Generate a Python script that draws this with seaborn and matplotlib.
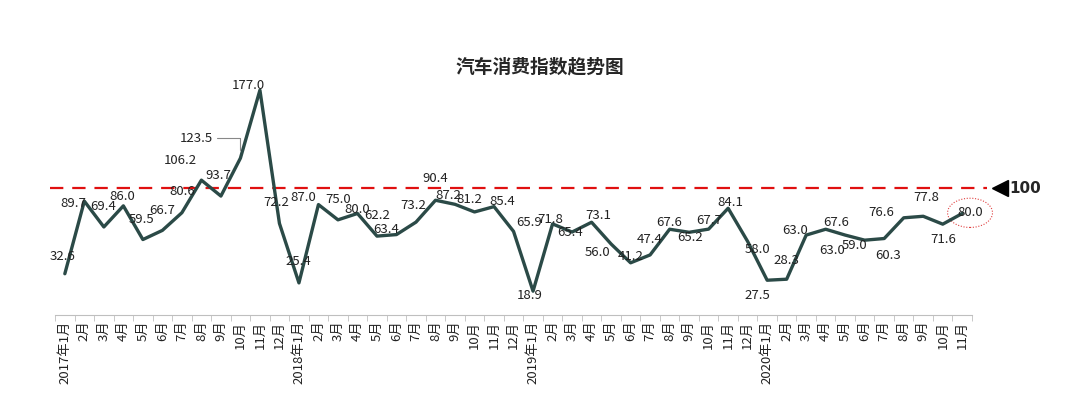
import numpy as np
import pandas as pd
import matplotlib
matplotlib.use("Agg")
import matplotlib.pyplot as plt
from matplotlib.patches import Ellipse
import seaborn as sns

# monthly index values, 2017-01 .. 2020-11
months = ['2017年1月', '2月', '3月', '4月', '5月', '6月', '7月', '8月', '9月', '10月', '11月', '12月',
          '2018年1月', '2月', '3月', '4月', '5月', '6月', '7月', '8月', '9月', '10月', '11月', '12月',
          '2019年1月', '2月', '3月', '4月', '5月', '6月', '7月', '8月', '9月', '10月', '11月', '12月',
          '2020年1月', '2月', '3月', '4月', '5月', '6月', '7月', '8月', '9月', '10月', '11月']
index_values = [32.6, 89.7, 69.4, 86.0, 59.5, 66.7, 80.6, 106.2, 93.7, 123.5, 177.0, 72.2,
                25.4, 87.0, 75.0, 80.0, 62.2, 63.4, 73.2, 90.4, 87.2, 81.2, 85.4, 65.9,
                18.9, 71.8, 65.4, 73.1, 56.0, 41.2, 47.4, 67.6, 65.2, 67.7, 84.1, 58.0,
                27.5, 28.3, 63.0, 67.6, 63.0, 59.0, 60.3, 76.6, 77.8, 71.6, 80.0]
baseline = 100

# label offsets in pixels (dx right, dy down) as placed in the original
label_offsets = [(-2, -17), (-11, 2), (-1, -20), (-1, -9), (-1, -20), (0, -20), (0, -21), (-21, -20),
                 (-3, -21), (-28, -20), (-12, -5), (-3, -21),
                 (-1, -21), (-15, -7), (0, -20), (0, -4), (0, -21), (-10, -5), (-3, -17), (0, -22),
                 (-7, -9), (-5, -12), (8, -5), (16, -9),
                 (-3, 4), (-2, -4), (-2, 0), (7, -7), (-14, 9), (0, -6), (0, -15), (0, -7),
                 (1, 5), (1, -9), (2, -6), (10, 8),
                 (-10, 15), (0, -19), (-11, -5), (11, -7), (-13, 15), (-10, 5), (4, 17), (-22, -5),
                 (3, -19), (0, 15), (8, -1)]

df = pd.DataFrame({'pos': np.arange(len(index_values)), 'value': index_values})

sns.set_style("white")
plt.rcParams['font.family'] = ['Noto Sans CJK SC', 'DejaVu Sans']

fig = plt.figure(figsize=(10.8, 3.93), dpi=100)
ax = fig.add_axes([0.051, 0.198, 0.849, 0.647])

line_color = '#2b4a47'
sns.lineplot(data=df, x='pos', y='value', ax=ax, color=line_color, linewidth=2.4)

ax.set_xlim(-0.5, len(index_values) - 0.5)
ax.set_ylim(0, 200)

# 100 reference line
ax.axhline(baseline, xmin=-0.006, xmax=1.016, color='#e01010', lw=1.6,
           dashes=(6, 4), clip_on=False, zorder=1)
ax.plot([1.031], [baseline], marker='<', markersize=11, color='black',
        transform=ax.get_yaxis_transform(), clip_on=False)
ax.text(1.041, baseline, '100', transform=ax.get_yaxis_transform(), va='center', ha='left',
        fontsize=11, fontweight='bold', family=['Liberation Sans Narrow', 'DejaVu Sans'])

# data labels
for i, v in enumerate(index_values):
    dx, dy = label_offsets[i]
    if i == 9:
        ax.annotate(f'{v:.1f}', xy=(i, v), xytext=(dx, -dy), textcoords='offset pixels',
                    ha='right', va='center', fontsize=9.5, color='#222222',
                    arrowprops=dict(arrowstyle='-', color='#888888', lw=0.8,
                                    connectionstyle='angle,angleA=0,angleB=90', shrinkA=1, shrinkB=6))
    else:
        ax.annotate(f'{v:.1f}', xy=(i, v), xytext=(dx, -dy), textcoords='offset pixels',
                    ha='center', va='center', fontsize=9.5, color='#222222')

# dotted highlight on the latest month
last = len(index_values) - 1
ax.add_patch(Ellipse((last + 0.4, index_values[last] + 0.5), 2.3, 23, fill=False,
                     edgecolor='#e04040', lw=0.8, linestyle=(0, (1, 1.5)), clip_on=False))

# axes styling
sns.despine(ax=ax, left=True, top=True, right=True)
ax.spines['bottom'].set_color('#bfbfbf')
ax.set_yticks([])
ax.set_xticks(df['pos'])
ax.set_xticklabels(months, rotation=90, fontsize=9.5, color='#222222')
ax.set_xticks(np.arange(-0.5, len(index_values)), minor=True)
ax.tick_params(axis='x', which='major', length=0, pad=4)
ax.tick_params(axis='x', which='minor', length=4, color='#bfbfbf', bottom=True)
ax.set_xlabel('')
ax.set_ylabel('')

fig.text(0.5, 0.829, '汽车消费指数趋势图', ha='center', va='center', fontsize=13.5, fontweight='bold')

fig.savefig('out.png', dpi=100)
